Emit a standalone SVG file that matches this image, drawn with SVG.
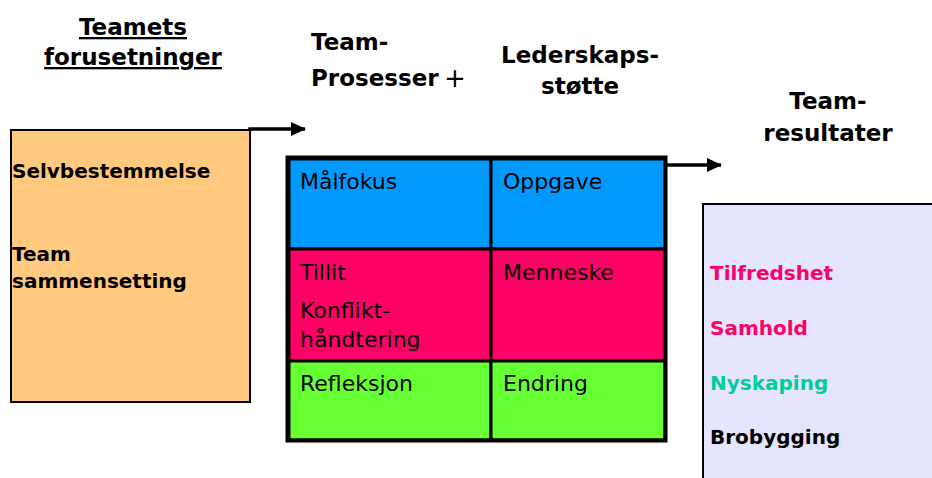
<svg xmlns="http://www.w3.org/2000/svg" width="932" height="478" viewBox="0 0 932 478">
<defs>
<marker id="ah" markerWidth="15" markerHeight="14" refX="14" refY="7" orient="auto" markerUnits="userSpaceOnUse" viewBox="0 0 15 14">
<path d="M0,0 L15,7 L0,14 z" fill="#000"/>
</marker>
<style>
.h{font-family:"DejaVu Sans",Verdana,sans-serif;font-weight:bold;font-size:23px;fill:#000}
.b{font-family:"DejaVu Sans",Verdana,sans-serif;font-weight:bold;font-size:20px}
.c{font-family:"DejaVu Sans",Tahoma,sans-serif;font-size:22px;fill:#000}
.box{stroke:#000;stroke-width:2}
.cell{stroke:#000;stroke-width:3}
.conn{stroke:#000;stroke-width:3.5;fill:none}
</style>
</defs>
<rect width="932" height="478" fill="#fff"/>

<g id="headers">
<text class="h" x="133" y="35" text-anchor="middle" text-decoration="underline">Teamets</text>
<text class="h" x="133" y="65" text-anchor="middle" text-decoration="underline">forusetninger</text>
<text class="h" x="311" y="50">Team-</text>
<text class="h" x="311" y="86">Prosesser</text>
<text x="455" y="87" text-anchor="middle" font-family="DejaVu Sans,sans-serif" font-size="26" fill="#000">+</text>
<text class="h" x="580" y="63" text-anchor="middle">Lederskaps-</text>
<text class="h" x="580" y="94" text-anchor="middle">støtte</text>
<text class="h" x="828" y="109" text-anchor="middle">Team-</text>
<text class="h" x="828" y="141" text-anchor="middle">resultater</text>
</g>

<g id="forutsetninger">
<rect class="box" x="11" y="130" width="239" height="272" fill="#FFC97F"/>
<text class="b" x="12" y="178" fill="#000">Selvbestemmelse</text>
<text class="b" x="12" y="261" fill="#000">Team</text>
<text class="b" x="12" y="288" fill="#000">sammensetting</text>
</g>

<g id="prosesser">
<rect x="287.5" y="157.5" width="378" height="283" fill="#fff" stroke="none"/>
<rect class="cell" x="289" y="159" width="202" height="90" fill="#0099FF"/>
<rect class="cell" x="491" y="159" width="174" height="90" fill="#0099FF"/>
<rect class="cell" x="289" y="249" width="202" height="112" fill="#FF0066"/>
<rect class="cell" x="491" y="249" width="174" height="112" fill="#FF0066"/>
<rect class="cell" x="289" y="361" width="202" height="79" fill="#66FF33"/>
<rect class="cell" x="491" y="361" width="174" height="79" fill="#66FF33"/>
<rect x="287.5" y="157.5" width="378" height="283" fill="none" stroke="#000" stroke-width="4"/>
<text class="c" x="300" y="189">Målfokus</text>
<text class="c" x="503" y="189">Oppgave</text>
<text class="c" x="300" y="280">Tillit</text>
<text class="c" x="300" y="318">Konflikt-</text>
<text class="c" x="300" y="347">håndtering</text>
<text class="c" x="503" y="280">Menneske</text>
<text class="c" x="300" y="391">Refleksjon</text>
<text class="c" x="503" y="391">Endring</text>
</g>

<g id="resultater">
<rect class="box" x="703" y="204" width="240" height="290" fill="#E5E5FF"/>
<text class="b" x="710" y="280" fill="#FF0066">Tilfredshet</text>
<text class="b" x="710" y="335" fill="#FF0066">Samhold</text>
<text class="b" x="710" y="390" fill="#00CC99">Nyskaping</text>
<text class="b" x="710" y="444" fill="#000">Brobygging</text>
</g>

<g id="connectors">
<polyline class="conn" points="250,131 250,129 305,129" marker-end="url(#ah)"/>
<line class="conn" x1="667" y1="165" x2="721" y2="165" marker-end="url(#ah)"/>
</g>
</svg>
